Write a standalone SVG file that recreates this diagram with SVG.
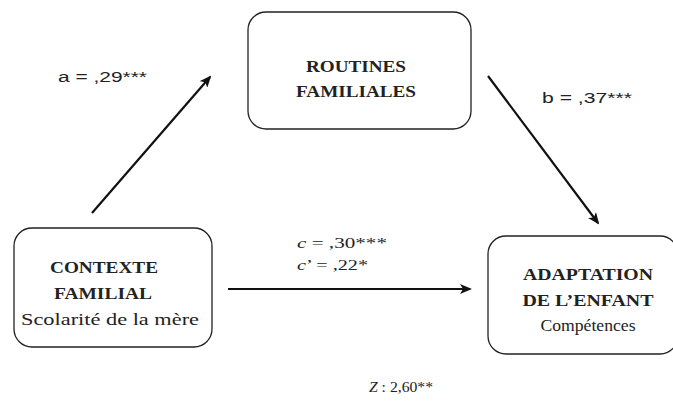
<svg xmlns="http://www.w3.org/2000/svg" width="673" height="406" viewBox="0 0 673 406">
  <defs>
    <marker id="arrow" viewBox="0 0 12 10" refX="10" refY="5" markerWidth="12" markerHeight="10" markerUnits="userSpaceOnUse" orient="auto">
      <path d="M0,0 L12,5 L0,10 L3,5 Z" fill="#111"/>
    </marker>
  </defs>
  <style>
    .box { fill: #fff; stroke: #222; stroke-width: 1.3; }
    .title { font-family: "Liberation Serif", serif; font-weight: bold; font-size: 16px; fill: #222; text-anchor: middle; }
    .sub { font-family: "Liberation Serif", serif; font-size: 16px; fill: #222; text-anchor: middle; }
    .coef { font-family: "Liberation Sans", sans-serif; font-size: 14px; fill: #222; }
    .coefs { font-family: "Liberation Serif", serif; font-size: 15px; fill: #222; }
    .link { stroke: #111; stroke-width: 2.2; fill: none; marker-end: url(#arrow); }
  </style>
  <rect width="673" height="406" fill="#fff"/>

  <g id="routines">
    <rect class="box" x="248" y="12" width="223" height="117" rx="18"/>
    <text class="title" x="356" y="72" textLength="100" lengthAdjust="spacingAndGlyphs">ROUTINES</text>
    <text class="title" x="356" y="97" textLength="120" lengthAdjust="spacingAndGlyphs">FAMILIALES</text>
  </g>

  <g id="contexte">
    <rect class="box" x="14" y="228" width="198" height="119" rx="18"/>
    <text class="title" x="104" y="273" textLength="108" lengthAdjust="spacingAndGlyphs">CONTEXTE</text>
    <text class="title" x="103" y="299" textLength="98" lengthAdjust="spacingAndGlyphs">FAMILIAL</text>
    <text class="sub" x="110" y="325" textLength="178" lengthAdjust="spacingAndGlyphs">Scolarité  de la mère</text>
  </g>

  <g id="adaptation">
    <rect class="box" x="488" y="236" width="190" height="118" rx="18"/>
    <text class="title" x="588" y="280" textLength="130" lengthAdjust="spacingAndGlyphs">ADAPTATION</text>
    <text class="title" x="588" y="306" textLength="131" lengthAdjust="spacingAndGlyphs">DE  L’ENFANT</text>
    <text class="sub" x="588" y="331" textLength="95" lengthAdjust="spacingAndGlyphs">Compétences</text>
  </g>

  <g id="connectors">
    <line class="link" x1="92" y1="213" x2="210" y2="77"/>
    <line class="link" x1="488" y1="76" x2="598" y2="223"/>
    <line class="link" x1="228" y1="289" x2="470" y2="289"/>
  </g>

  <g id="labels">
    <text class="coef" x="58" y="82" textLength="89" lengthAdjust="spacingAndGlyphs">a = ,29***</text>
    <text class="coef" x="542" y="103" textLength="90" lengthAdjust="spacingAndGlyphs">b = ,37***</text>
    <text class="coefs" x="297" y="248" textLength="90" lengthAdjust="spacingAndGlyphs"><tspan font-style="italic">c</tspan> =  ,30***</text>
    <text class="coefs" x="297" y="270" textLength="71" lengthAdjust="spacingAndGlyphs"><tspan font-style="italic">c</tspan>’ = ,22*</text>
    <text class="coefs" x="369" y="392" font-size="17" textLength="64" lengthAdjust="spacingAndGlyphs"><tspan font-style="italic">Z</tspan> : 2,60**</text>
  </g>
</svg>
